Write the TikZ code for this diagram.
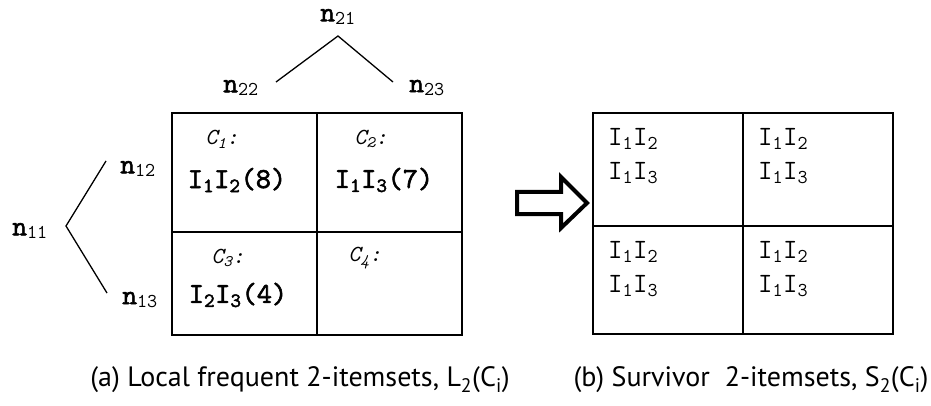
\documentclass[tikz,border=0pt]{standalone}
\usepackage{fontspec}
\setmainfont{Liberation Sans}
\newfontfamily\capfont{PT Sans}
\newfontfamily\monobold[FakeBold=2]{lmmono10-regular.otf}
\usetikzlibrary{positioning, calc}
\tikzset{
  gridline/.style={line width=1.3pt, black},
  treeline/.style={line width=1.3pt, black},
  treelbl/.style={font=\fontsize{28}{30}\selectfont\ttfamily, inner sep=0pt},
  clabel/.style={font=\fontsize{23}{25}\selectfont\ttfamily\itshape, inner sep=0pt},
  itembold/.style={font=\fontsize{29}{31}\selectfont\monobold, inner sep=0pt},
  itemtxt/.style={font=\fontsize{28}{34}\selectfont\ttfamily, inner sep=0pt, align=left},
  caption/.style={font=\fontsize{28}{30}\selectfont\capfont, inner sep=0pt},
  fatarrow/.style={line width=4pt, line join=miter, black}
}
\newcommand{\nlbl}[1]{{\monobold n}\textsubscript{#1}}
\newcommand{\itm}[2]{I\textsubscript{#1}I\textsubscript{#2}}

\begin{document}
\begin{tikzpicture}[x=1pt, y=-1pt]
  \useasboundingbox (0,0) rectangle (931,406);
  % grid (a)
  \draw[gridline] (172,113) rectangle (462,335);
  \draw[gridline] (317,113) -- (317,335);
  \draw[gridline] (172,232) -- (462,232);
  % grid (b)
  \draw[gridline] (593,113) rectangle (893,334);
  \draw[gridline] (743,113) -- (743,334);
  \draw[gridline] (593,226) -- (893,226);

  % top tree
  \node[treelbl] (n21) at (338,17) {\nlbl{21}};
  \node[treelbl] (n22) at (241,88) {\nlbl{22}};
  \node[treelbl] (n23) at (427,88) {\nlbl{23}};
  \coordinate (topapex) at (338,36);
  \coordinate (topleft) at (276,82);
  \coordinate (topright) at (393,82);
  \draw[treeline] (topleft) -- (topapex) -- (topright);

  % left tree
  \node[treelbl] (n11) at (30,231) {\nlbl{11}};
  \node[treelbl] (n12) at (138,169) {\nlbl{12}};
  \node[treelbl] (n13) at (140,300) {\nlbl{13}};
  \coordinate (lftapex) at (66,226);
  \coordinate (lfttop) at (106,161);
  \coordinate (lftbot) at (107,293);
  \draw[treeline] (lfttop) -- (lftapex) -- (lftbot);

  % cells of (a)
  \node[clabel] (c1) at (222,139) {C\textsubscript{1}:};
  \node[clabel] (c2) at (371,139) {C\textsubscript{2}:};
  \node[clabel] (c3) at (228,258) {C\textsubscript{3}:};
  \node[clabel] (c4) at (365,258) {C\textsubscript{4}:};
  \node[itembold] (l1) at (237,180) {\itm{1}{2}(8)};
  \node[itembold] (l2) at (384,180) {\itm{1}{3}(7)};
  \node[itembold] (l3) at (238,295) {\itm{2}{3}(4)};

  % cells of (b)
  \node[itemtxt, anchor=north west] (s1) at (608,128) {\itm{1}{2}\\\itm{1}{3}};
  \node[itemtxt, anchor=north west] (s2) at (758,128) {\itm{1}{2}\\\itm{1}{3}};
  \node[itemtxt, anchor=north west] (s3) at (608,241) {\itm{1}{2}\\\itm{1}{3}};
  \node[itemtxt, anchor=north west] (s4) at (758,241) {\itm{1}{2}\\\itm{1}{3}};

  % block arrow
  \draw[fatarrow] (517,192) -- (561,192) -- (561,177) -- (587,203)
    -- (561,228) -- (561,214) -- (517,214) -- cycle;

  % captions
  \node[caption] (capa) at (300,380) {(a) Local frequent 2-itemsets, L\textsubscript{2}(C\textsubscript{i})};
  \node[caption] (capb) at (751,380) {(b) Survivor~ 2-itemsets, S\textsubscript{2}(C\textsubscript{i})};
\end{tikzpicture}
\end{document}
